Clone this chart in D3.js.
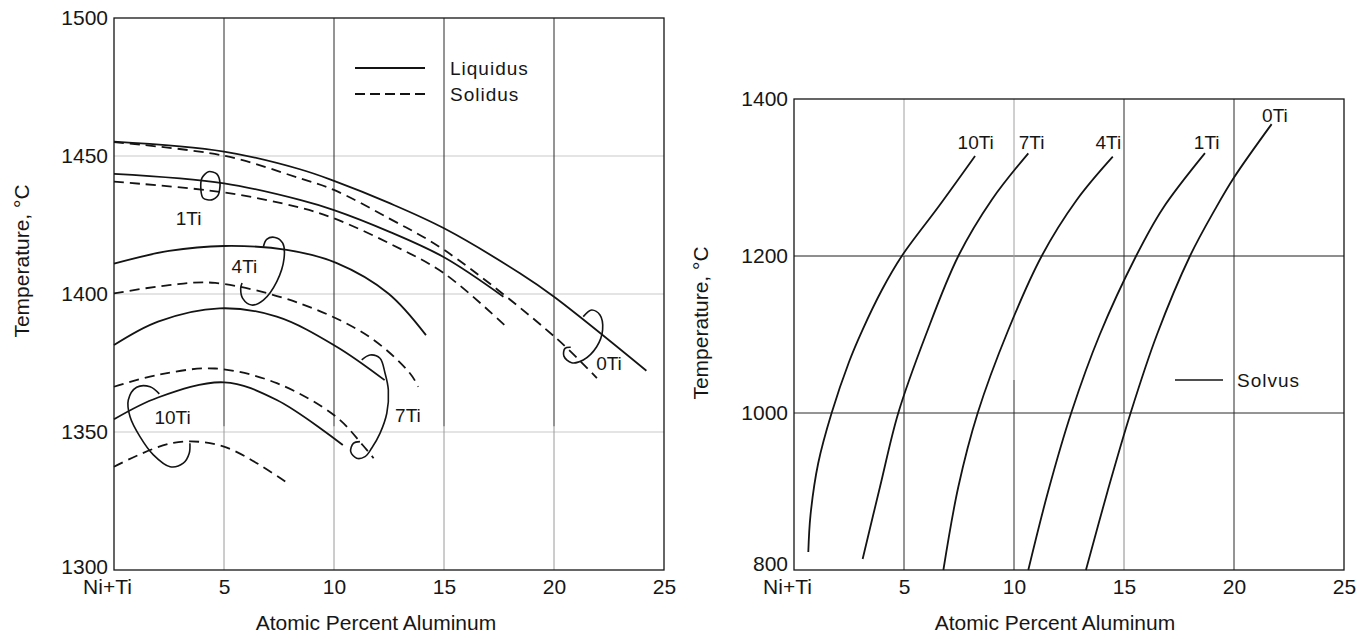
<!DOCTYPE html>
<html><head><meta charset="utf-8">
<script src="https://cdn.jsdelivr.net/npm/d3@7"></script>
<style>
body{margin:0;background:#fff}
svg{display:block}
text{font-family:"Liberation Sans",Arial,Helvetica,sans-serif;fill:#161616}
</style>
</head><body>
<svg id="c" width="1369" height="639"></svg>
<script>
// ---------- shared axis data ----------
const xTicks = [0, 5, 10, 15, 20, 25];
const xTickLabels = ["Ni+Ti", "5", "10", "15", "20", "25"];
const leftYTicks = [1300, 1350, 1400, 1450, 1500];
const rightYTicks = [800, 1000, 1200, 1400];
const xTitle = "Atomic Percent Aluminum";
const yTitle = "Temperature, °C";

// ---------- left panel: liquidus / solidus (x = at.% Al, y = °C) ----------
const liq0Ti = [[0,1455.2],[5,1451.6],[8.45,1445.2],[10,1441],[12.5,1433],[15,1423.8],[18.45,1407.5],[20,1399],[24.2,1372.2]];
const sol0Ti = [[0,1455],[5,1450.1],[8.45,1441.9],[10,1437.7],[12.5,1427.4],[15,1416],[20.1,1384],[21.95,1369.5]];
const liq1Ti = [[0,1443.5],[5,1440.1],[8.45,1434.1],[10,1430.4],[12.5,1422.6],[15,1413.3],[17.7,1399]];
const sol1Ti = [[0,1440.7],[5,1436.8],[8.45,1431.3],[10,1427.4],[12.5,1418.4],[15,1407.5],[17.85,1388]];
const liq4Ti = [[0,1411],[2.5,1415.6],[5,1417.4],[7.85,1416],[10.1,1411.3],[12.47,1400.2],[14.18,1385.1]];
const sol4Ti = [[0,1400.2],[2.5,1403.2],[4.6,1404],[8.45,1396.6],[11.6,1384.5],[13.45,1371.3],[13.83,1366.4]];
const liq7Ti = [[0,1381.5],[2,1390],[4.8,1394.8],[7.4,1391.8],[10.1,1381],[12.3,1368.8]];
const sol7Ti = [[0,1366.4],[2,1370.7],[4.6,1373],[7.4,1367.7],[10.1,1355.5],[11.3,1345.3],[11.8,1340.5]];
const liq10Ti = [[0,1354.6],[2,1362.5],[5,1368],[7.4,1361.6],[10.4,1345.3]];
const sol10Ti = [[0,1337.4],[2.7,1346.1],[5,1344.7],[7.9,1331.4]];

// grouping loops (annotation strokes, in data units)
const loop1Ti = [[4.29,1444.3],[4.67,1443.5],[4.82,1440.1],[4.74,1435.9],[4.44,1434.1],[4.06,1434.7],[3.95,1437.7],[3.99,1441.9]];
const loop4Ti = [[6.79,1417.1],[6.94,1419.8],[7.32,1420.5],[7.67,1418.4],[7.73,1412.9],[7.40,1404.5],[6.79,1397.8],[6.26,1396.0],[5.85,1398.4],[5.76,1402.1],[5.82,1404]];
const loop7Ti = [[11.26,1376.1],[11.64,1377.9],[12.09,1376.7],[12.32,1371.3],[12.47,1365.2],[12.4,1356.8],[12.09,1349.5],[11.71,1344.1],[11.41,1341.1],[11.03,1340.5],[10.76,1342.9],[10.88,1345.9],[11.18,1346.5]];
const loop10Ti = [[2.06,1363.8],[1.64,1366.4],[1.03,1366.2],[0.65,1361.6],[0.73,1355.5],[1.18,1348.3],[1.79,1341.7],[2.55,1337.4],[3.15,1338.7],[3.42,1342.3],[3.45,1345.9]];
const loop0Ti = [[21.33,1391.8],[21.71,1394.2],[22.09,1392.4],[22.21,1387.0],[21.94,1380.9],[21.33,1376.1],[20.80,1375.1],[20.45,1377.5],[20.5,1380.3],[20.76,1380.7]];

const leftLabels = ["1Ti", "4Ti", "10Ti", "7Ti", "0Ti"];
const leftLabelPos = [[3.39,1427.5],[5.93,1410.1],[2.66,1355.3],[13.36,1355.8],[22.5,1375]];
const legendNames = ["Liquidus", "Solidus"];

// ---------- right panel: solvus ----------
const solvus10Ti = [[0.65,823],[0.75,870],[1.1,936],[1.71,1000],[2.5,1065],[3.1,1105],[4.0,1157],[4.9,1200],[6.6,1264],[8.23,1327.4]];
const solvus7Ti = [[3.12,814],[3.91,906],[4.74,1000],[6.0,1100],[7.47,1200],[9.0,1272],[10.65,1330.8]];
const solvus4Ti = [[6.79,800],[7.47,906],[8.35,1000],[9.74,1105.7],[11.26,1200],[12.85,1271.3],[14.49,1326.5]];
const solvus1Ti = [[10.65,800],[11.55,900],[12.6,1000],[13.9,1100],[15.55,1200],[16.75,1260],[18.68,1331]];
const solvus0Ti = [[13.27,800],[14.25,900],[15.3,1000],[16.5,1100],[18.0,1200],[19.15,1260],[20.0,1300],[21.71,1368]];
const rightLabels = ["10Ti", "7Ti", "4Ti", "1Ti", "0Ti"];
const rightLabelPos = [[8.26,1344],[10.8,1345],[14.29,1345],[18.76,1345],[21.86,1379]];
const solvusLegend = "Solvus";

// ---------- drawing ----------
const svg = d3.select("#c");
const INK = "#141414";
const curve = d3.curveCatmullRom.alpha(0.5);

function panel(o) {
  const x = d3.scaleLinear().domain([0, 25]).range(o.xr);
  const y = d3.scaleLinear().domain(o.yd).range(o.yr);
  const g = svg.append("g");
  const [x0, x1] = o.xr, [yb, yt] = o.yr;

  // grid
  o.hGrid.forEach(t => g.append("line")
    .attr("x1", x0).attr("x2", x1).attr("y1", y(t.v)).attr("y2", y(t.v))
    .attr("stroke", t.c).attr("stroke-width", t.w || 1));
  o.vGrid.forEach(s => g.append("line")
    .attr("x1", x(s.v)).attr("x2", x(s.v)).attr("y1", y(s.from)).attr("y2", y(s.to))
    .attr("stroke", s.c).attr("stroke-width", 1));

  // frame
  g.append("rect").attr("x", x0).attr("y", yt).attr("width", x1 - x0).attr("height", yb - yt)
    .attr("fill", "none").attr("stroke", INK).attr("stroke-width", 1.3);

  // axes (labels only)
  const ax = g.append("g").attr("transform", `translate(0,${yb})`)
    .call(d3.axisBottom(x).tickValues(xTicks).tickSize(0).tickPadding(9)
      .tickFormat((d, i) => xTickLabels[i]));
  ax.select(".domain").remove();
  ax.selectAll("text").attr("font-size", 21).attr("font-family", null).attr("fill", INK)
    .attr("dx", (d, i) => i === 0 ? -7 : 0);

  const ay = g.append("g").attr("transform", `translate(${x0},0)`)
    .call(d3.axisLeft(y).tickValues(o.yTicks).tickSize(0).tickPadding(6).tickFormat(d3.format("d")));
  ay.select(".domain").remove();
  ay.selectAll("text").attr("font-size", 21).attr("font-family", null).attr("fill", INK)
    .attr("dy", "0.32em")
    .attr("transform", d => d === o.yd[0] ? `translate(0,${o.lowShift})` : null);

  // titles
  g.append("text").attr("x", o.xTitlePos[0]).attr("y", o.xTitlePos[1])
    .attr("text-anchor", "middle").attr("font-size", 21).text(xTitle);
  g.append("text").attr("transform", `translate(${o.yTitlePos[0]},${o.yTitlePos[1]}) rotate(-90)`)
    .attr("text-anchor", "middle").attr("dominant-baseline", "central").attr("font-size", 21).text(yTitle);

  return { g, x, y };
}

// left panel
const L = panel({
  xr: [114, 664], yr: [570, 18], yd: [1300, 1500], yTicks: leftYTicks, lowShift: -3,
  hGrid: [{ v: 1450, c: "#c9c9c9" }, { v: 1400, c: "#c9c9c9" }, { v: 1350, c: "#c9c9c9" }],
  vGrid: [5, 10, 15, 20].flatMap(v => [
    { v, from: 1500, to: 1352, c: "#2a2a2a" },
    { v, from: 1352, to: 1300, c: "#9a9a9a" }]),
  xTitlePos: [376, 630], yTitlePos: [21, 261]
});

const lineL = d3.line().x(d => L.x(d[0])).y(d => L.y(d[1])).curve(curve);
[liq0Ti, liq1Ti, liq4Ti, liq7Ti, liq10Ti].forEach(s =>
  L.g.append("path").attr("d", lineL(s)).attr("fill", "none").attr("stroke", INK).attr("stroke-width", 1.8));
[sol0Ti, sol1Ti, sol4Ti, sol7Ti, sol10Ti].forEach(s =>
  L.g.append("path").attr("d", lineL(s)).attr("fill", "none").attr("stroke", INK)
    .attr("stroke-width", 1.8).attr("stroke-dasharray", "10,6"));

const loopClosed = d3.line().x(d => L.x(d[0])).y(d => L.y(d[1])).curve(d3.curveCardinalClosed.tension(0.2));
L.g.append("path").attr("d", loopClosed(loop1Ti)).attr("fill", "none").attr("stroke", INK).attr("stroke-width", 1.6);
[loop4Ti, loop7Ti, loop10Ti, loop0Ti].forEach(s =>
  L.g.append("path").attr("d", lineL(s)).attr("fill", "none").attr("stroke", INK).attr("stroke-width", 1.6));

leftLabels.forEach((t, i) => L.g.append("text")
  .attr("x", L.x(leftLabelPos[i][0])).attr("y", L.y(leftLabelPos[i][1]))
  .attr("text-anchor", "middle").attr("dominant-baseline", "central").attr("font-size", 19).text(t));

// legend (left)
legendNames.forEach((t, i) => {
  const yy = 68 + i * 26;
  L.g.append("line").attr("x1", 355).attr("x2", 425).attr("y1", yy).attr("y2", yy)
    .attr("stroke", INK).attr("stroke-width", 1.8).attr("stroke-dasharray", i ? "10,5" : null);
  L.g.append("text").attr("x", 450).attr("y", yy).attr("dominant-baseline", "central")
    .attr("font-size", 19).attr("letter-spacing", 1).text(t);
});

// right panel
const R = panel({
  xr: [794, 1344], yr: [570, 99], yd: [800, 1400], yTicks: rightYTicks, lowShift: -6,
  hGrid: [{ v: 1200, c: "#1e1e1e" }, { v: 1000, c: "#2a2a2a" }],
  vGrid: [
    { v: 5, from: 1400, to: 1200, c: "#a0a0a0" }, { v: 5, from: 1200, to: 800, c: "#2a2a2a" },
    { v: 10, from: 1400, to: 1042, c: "#a0a0a0" }, { v: 10, from: 1042, to: 800, c: "#2a2a2a" },
    { v: 15, from: 1400, to: 1000, c: "#2a2a2a" }, { v: 15, from: 1000, to: 800, c: "#8a8a8a" },
    { v: 20, from: 1400, to: 800, c: "#2a2a2a" }],
  xTitlePos: [1055, 630], yTitlePos: [700, 323]
});

const lineR = d3.line().x(d => R.x(d[0])).y(d => R.y(d[1])).curve(curve);
[solvus10Ti, solvus7Ti, solvus4Ti, solvus1Ti, solvus0Ti].forEach(s =>
  R.g.append("path").attr("d", lineR(s)).attr("fill", "none").attr("stroke", INK).attr("stroke-width", 1.8));

rightLabels.forEach((t, i) => R.g.append("text")
  .attr("x", R.x(rightLabelPos[i][0])).attr("y", R.y(rightLabelPos[i][1]))
  .attr("text-anchor", "middle").attr("dominant-baseline", "central").attr("font-size", 19).text(t));

R.g.append("line").attr("x1", 1175).attr("x2", 1223).attr("y1", 380).attr("y2", 380)
  .attr("stroke", INK).attr("stroke-width", 1.3);
R.g.append("text").attr("x", 1237).attr("y", 380).attr("dominant-baseline", "central")
  .attr("font-size", 19).attr("letter-spacing", 1).text(solvusLegend);
</script>
</body></html>
